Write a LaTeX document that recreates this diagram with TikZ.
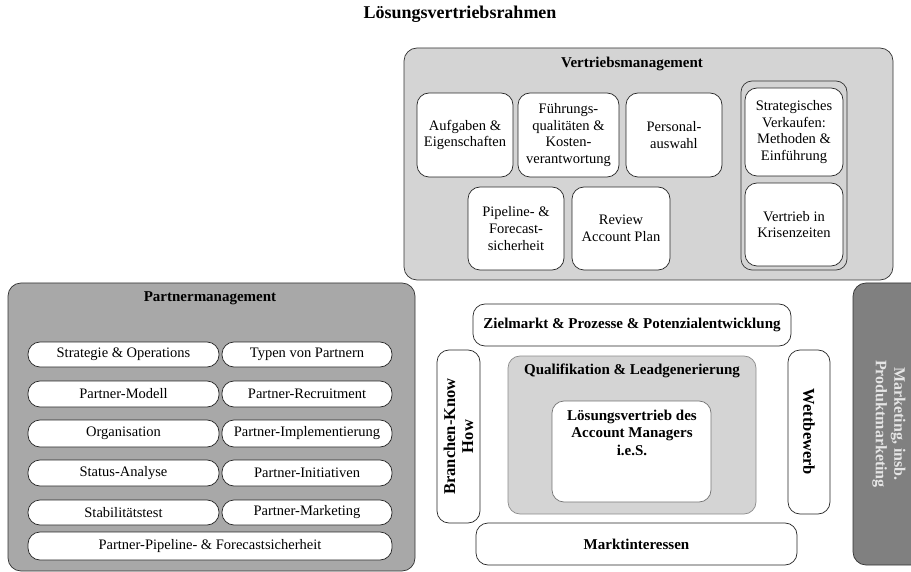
\documentclass[tikz,border=0pt]{standalone}
\usepackage{fontspec}
\setmainfont{Liberation Serif}
\definecolor{lightbg}{gray}{0.83}
\definecolor{midbg}{gray}{0.66}
\definecolor{darkbg}{gray}{0.5}

\begin{document}
\begin{tikzpicture}[x=1pt,y=-1pt,
  frame/.style={draw=black!80,line width=0.7pt,rounded corners=13pt,inner sep=0pt},
  item/.style={draw=black!85,fill=white,line width=0.7pt,rounded corners=12pt,align=center,inner sep=0pt,font=\fontsize{14.5}{16.8}\selectfont},
  pill/.style={item,rounded corners=12pt},
  head/.style={font=\bfseries\fontsize{15}{17.5}\selectfont,align=center}]
\clip (0,0) rectangle (911,572);

\node[head,font=\bfseries\fontsize{18}{21}\selectfont] (title) at (460,14) {Lösungsvertriebsrahmen};

% Vertriebsmanagement
\node[frame,fill=lightbg,minimum width=489,minimum height=232] (vm) at (648.5,164) {};
\node[head] (vmlabel) at (632,64) {Vertriebsmanagement};
\node[item,minimum width=96,minimum height=84] (aufgaben) at (465,135) {Aufgaben \&\\Eigenschaften};
\node[item,minimum width=101,minimum height=84] (fuehrung) at (568.5,135) {Führungs-\\qualitäten \&\\Kosten-\\verantwortung};
\node[item,minimum width=96,minimum height=84] (personal) at (674,135) {Personal-\\auswahl};
\node[item,minimum width=96,minimum height=83] (pipeline) at (516,228.5) {Pipeline- \&\\Forecast-\\sicherheit};
\node[item,minimum width=98,minimum height=83] (review) at (621,228.5) {Review\\Account Plan};
\node[frame,fill=lightbg,rounded corners=11pt,minimum width=106,minimum height=189] (vmgroup) at (794,175.5) {};
\node[item,minimum width=98,minimum height=88] (strategisch) at (794,132) {Strategisches\\Verkaufen:\\Methoden \&\\Einführung};
\node[item,minimum width=98,minimum height=83] (krise) at (794,224.5) {Vertrieb in\\Krisenzeiten};

% Partnermanagement
\node[frame,fill=midbg,minimum width=407,minimum height=288] (pm) at (211.5,427) {};
\node[head] (pmlabel) at (210,298) {Partnermanagement};
\node[pill,minimum width=191,minimum height=25] (strategie) at (123.5,354.5) {Strategie \& Operations};
\node[pill,minimum width=170,minimum height=25] (typen) at (307,354.5) {Typen von Partnern};
\node[pill,minimum width=191,minimum height=26] (modell) at (123.5,394) {Partner-Modell};
\node[pill,minimum width=170,minimum height=26] (recruit) at (307,394) {Partner-Recruitment};
\node[pill,minimum width=191,minimum height=27] (organisation) at (123.5,433.5) {Organisation};
\node[pill,minimum width=170,minimum height=27] (implement) at (307,433.5) {Partner-Implementierung};
\node[pill,minimum width=191,minimum height=26] (status) at (123.5,473) {Status-Analyse};
\node[pill,minimum width=170,minimum height=26] (initiativ) at (307,473) {Partner-Initiativen};
\node[pill,minimum width=191,minimum height=25] (stabil) at (123.5,512.5) {Stabilitätstest};
\node[pill,minimum width=170,minimum height=25] (pmarketing) at (307,512.5) {Partner-Marketing};
\node[pill,minimum width=364,minimum height=28] (ppipeline) at (210,546) {Partner-Pipeline- \& Forecastsicherheit};

% Kern
\node[item,head,minimum width=318,minimum height=42] (zielmarkt) at (632,325) {Zielmarkt \& Prozesse \& Potenzialentwicklung};
\node[item,head,font=\bfseries\fontsize{16.5}{18}\selectfont,rotate=90,minimum width=173,minimum height=43] (branchen) at (458.5,436.5) {Branchen-Know\\How};
\node[frame,fill=lightbg,draw=black!45,rounded corners=12pt,minimum width=248,minimum height=158] (quali) at (632,435) {};
\node[head] (qualilabel) at (632,371) {Qualifikation \& Leadgenerierung};
\node[item,draw=black!55,minimum width=159,minimum height=101] (kern) at (631.5,451.5) {};
\node[head] (kerntext) at (632,432.5) {Lösungsvertrieb des\\Account Managers\\i.e.S.};
\node[item,head,font=\bfseries\fontsize{16.5}{18}\selectfont,rotate=-90,minimum width=164,minimum height=42] (wettbewerb) at (809,432) {Wettbewerb};
\node[item,head,minimum width=321,minimum height=42] (markt) at (636.5,544) {Marktinteressen};
\node[frame,fill=darkbg,head,text=black!10,font=\bfseries\fontsize{16}{18.5}\selectfont,rotate=-90,minimum width=282,minimum height=72] (marketing) at (889,424) {Marketing, insb.\\Produktmarketing};
\end{tikzpicture}
\end{document}
